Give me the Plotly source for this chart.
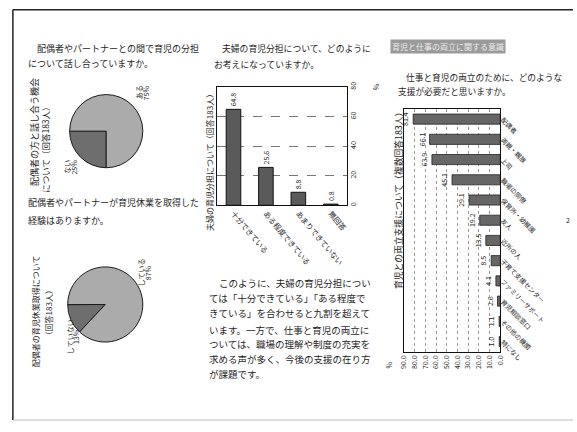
import plotly.graph_objects as go

W, H = 577, 432
FONT = "Noto Sans CJK JP"
TXT = "#1e1e1e"

# ---------------- data ----------------
pie1_labels = ["ない", "ある"]
pie1_values = [25, 75]
pie2_labels = ["していない", "している"]
pie2_values = [13, 87]

mid_categories = ["十分できている", "ある程度できている", "あまりできていない", "無回答"]
mid_values = [64.8, 25.6, 8.8, 0.8]
mid_ticks = [0, 20, 40, 60, 80]

right_categories = ["配偶者", "両親・親族", "上司", "職場の同僚", "保育所・幼稚園", "友人",
                    "近所の人", "子育て支援センター", "ファミリーサポート", "育児相談窓口",
                    "その他の機関", "特になし"]
right_values = [81.4, 66.1, 63.9, 45.1, 29.1, 19.2, 13.5, 8.5, 4.1, 2.6, 1.1, 1.0]
right_ticks = [0, 10, 20, 30, 40, 50, 60, 70, 80, 90]


def px(x):
    return x / W


def py(y):
    return 1 - y / H


fig = go.Figure()

# pies
fig.add_trace(go.Pie(labels=pie1_labels, values=pie1_values, sort=False, direction="clockwise",
                     rotation=180, textinfo="none", hoverinfo="label+percent",
                     marker=dict(colors=["#6e6e6e", "#ababab"], line=dict(color="#1a1a1a", width=1)),
                     domain=dict(x=[px(64), px(140)], y=[py(169), py(93)]), showlegend=False))
fig.add_trace(go.Pie(labels=pie2_labels, values=pie2_values, sort=False, direction="clockwise",
                     rotation=223, textinfo="none", hoverinfo="label+percent",
                     marker=dict(colors=["#6e6e6e", "#ababab"], line=dict(color="#1a1a1a", width=1)),
                     domain=dict(x=[px(62), px(140)], y=[py(350), py(272)]), showlegend=False))

# middle vertical bars
fig.add_trace(go.Bar(x=mid_categories, y=mid_values, xaxis="x", yaxis="y", width=0.45,
                     marker=dict(color="#5a5a5a", line=dict(color="#111", width=1)),
                     text=[f"{v:.1f}" for v in mid_values], textposition="outside",
                     textangle=-90, textfont=dict(size=7, color=TXT), cliponaxis=False,
                     constraintext="none", showlegend=False))

# right horizontal bars
fig.add_trace(go.Bar(y=right_categories, x=right_values, orientation="h", xaxis="x2", yaxis="y2",
                     width=0.5, marker=dict(color="#666666", line=dict(color="#222", width=0.8)),
                     text=[f"{v:.1f}" for v in right_values], textposition="outside",
                     textangle=-90, textfont=dict(size=7, color=TXT), cliponaxis=False,
                     constraintext="none", showlegend=False))

ann = []


def htext(x, y, text, size=9, color=TXT, **kw):
    ann.append(dict(x=px(x), y=py(y), xref="paper", yref="paper", text=text, showarrow=False,
                    xanchor="left", yanchor="middle", font=dict(size=size, color=color, family=FONT), **kw))


def vtext(x, y0, y1, text, size=8.5, color=TXT):
    ann.append(dict(x=px(x), y=py((y0 + y1) / 2), xref="paper", yref="paper", text=text,
                    showarrow=False, textangle=-90, xanchor="center", yanchor="middle",
                    font=dict(size=size, color=color, family=FONT)))


# left column
htext(30, 45, "配偶者やパートナーとの間で育児の分担", 9)
htext(20, 61, "について話し合っていますか。", 9)
vtext(28.5, 77, 187, "配偶者の方と話し合う機会", 9)
vtext(39.5, 110, 187, "について（回答183人）", 8.5)
vtext(135, 84, 98, "ある", 7)
vtext(142, 84, 98, "75%", 7)
vtext(62, 160, 176, "ない", 7)
vtext(69, 160, 176, "25%", 7)
htext(20, 205, "配偶者やパートナーが育児休業を取得した", 9)
htext(20, 224, "経験はありますか。", 9)
vtext(30, 263, 372, "配偶者の育児休業取得について", 8)
vtext(43, 297, 343, "（回答183人）", 8)
vtext(137, 266, 290, "している", 7)
vtext(144, 266, 290, "87%", 7)
vtext(65, 333, 355, "していない", 7)
vtext(72, 333, 355, "13%", 7)

# middle column
htext(218, 45, "夫婦の育児分担について、どのように", 8.8)
htext(210, 62, "お考えになっていますか。", 8.8)
vtext(207, 90, 233, "夫婦の育児分担について（回答183人）", 8)
vtext(376, 80, 90, "%", 7)
para = ["このように、夫婦の育児分担につい",
        "ては「十分できている」「ある程度で",
        "きている」を合わせると九割を超えて",
        "います。一方で、仕事と育児の両立に",
        "ついては、職場の理解や制度の充実を",
        "求める声が多く、今後の支援の在り方",
        "が課題です。"]
ys = [289, 304, 320, 337, 352, 368, 383]
for i, (t, yy) in enumerate(zip(para, ys)):
    htext(215 if i == 0 else 205, yy, t, 9.5)

# right column
ann.append(dict(x=px(450), y=py(43), xref="paper", yref="paper", text="育児と仕事の両立に関する意識",
                showarrow=False, xanchor="center", yanchor="middle", bgcolor="#9a9a9a",
                borderpad=1, font=dict(size=8, color="#ececec", family=FONT)))
htext(405, 75, "仕事と育児の両立のために、どのような", 8.7)
htext(397, 90, "支援が必要だと思いますか。", 8.7)
vtext(399, 110, 293, "育児との両立支援について（複数回答183人）", 8.8)
vtext(390, 370, 378, "%", 7)
htext(568, 223, "2", 7)

fig.update_layout(
    width=W, height=H, margin=dict(l=0, r=0, t=0, b=0),
    paper_bgcolor="white", plot_bgcolor="white",
    font=dict(family=FONT, color=TXT, size=8),
    annotations=ann,
    xaxis=dict(domain=[px(215), px(347)], anchor="y", showline=True, linecolor="#111",
               linewidth=1, mirror=True, ticks="", tickangle=50,
               tickfont=dict(size=7.5, color=TXT), showgrid=False),
    yaxis=dict(domain=[py(208), py(85)], anchor="x", side="right", range=[0, 80],
               tickvals=mid_ticks, tickangle=-90, tickfont=dict(size=7, color=TXT),
               showline=True, linecolor="#111", linewidth=1, mirror=True,
               showgrid=True, gridcolor="#777", griddash="dash", gridwidth=1, zeroline=False,
               ticks=""),
    xaxis2=dict(domain=[px(405), px(503)], anchor="y2", range=[90, 0], tickvals=right_ticks,
                tickformat=".1f", tickangle=-90, tickfont=dict(size=7, color=TXT),
                showline=True, linecolor="#111", linewidth=1, mirror=True,
                showgrid=True, gridcolor="#999", griddash="dot", zeroline=False, ticks=""),
    yaxis2=dict(domain=[py(360), py(108)], anchor="x2", side="right", autorange="reversed",
                tickangle=45, tickfont=dict(size=6.5, color=TXT), showline=True,
                linecolor="#111", linewidth=1, mirror=True, showgrid=False, ticks=""),
    shapes=[
        dict(type="line", xref="paper", yref="paper", x0=px(7), x1=1, y0=py(5), y1=py(5),
             line=dict(color="#222", width=1.5)),
        dict(type="line", xref="paper", yref="paper", x0=px(7), x1=px(7), y0=py(5), y1=py(431),
             line=dict(color="#222", width=1.5)),
        dict(type="line", xref="paper", yref="paper", x0=px(7), x1=1, y0=py(431), y1=py(431),
             line=dict(color="#bbb", width=1)),
    ],
)

fig.write_html("out.html")
